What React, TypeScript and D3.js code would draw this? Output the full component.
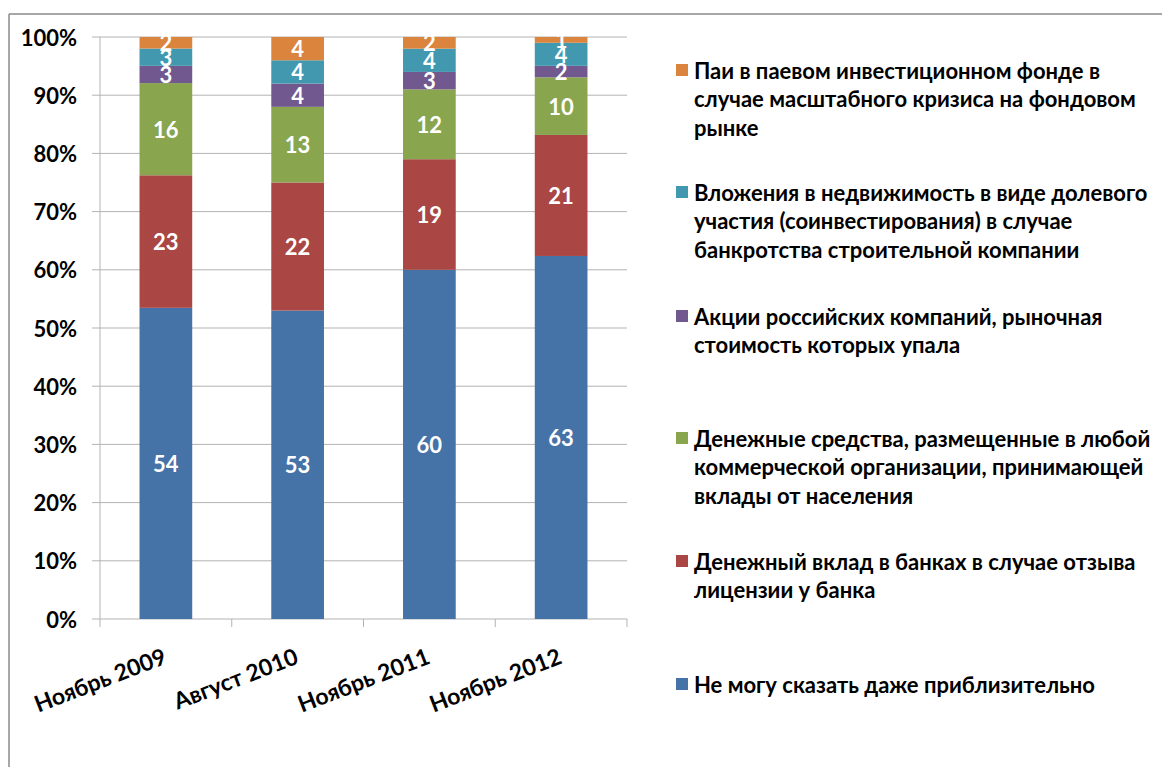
import React from "react";
import * as d3 from "d3";

// Survey waves
const categories = ["Ноябрь 2009", "Август 2010", "Ноябрь 2011", "Ноябрь 2012"];

// Answer shares, % of respondents (stacked bottom to top)
const cantSay = [54, 53, 60, 63];
const bankDeposit = [23, 22, 19, 21];
const anyOrganization = [16, 13, 12, 10];
const russianShares = [3, 4, 3, 2];
const realEstate = [3, 4, 4, 4];
const mutualFunds = [2, 4, 2, 1];

const seriesNames = [
  "Не могу сказать даже приблизительно",
  "Денежный вклад в банках в случае отзыва лицензии у банка",
  "Денежные средства, размещенные в любой коммерческой организации, принимающей вклады от населения",
  "Акции российских компаний, рыночная стоимость которых упала",
  "Вложения в недвижимость в виде долевого участия (соинвестирования) в случае банкротства строительной компании",
  "Паи в паевом инвестиционном фонде в случае масштабного кризиса на фондовом рынке",
];

// Legend lines, top entry first
const legendLines = [
  ["Паи в паевом инвестиционном фонде в", "случае масштабного кризиса на фондовом", "рынке"],
  ["Вложения в недвижимость в виде долевого", "участия (соинвестирования) в случае", "банкротства строительной компании"],
  ["Акции российских компаний, рыночная", "стоимость которых упала"],
  ["Денежные средства, размещенные в любой", "коммерческой организации, принимающей", "вклады от населения"],
  ["Денежный вклад в банках в случае отзыва", "лицензии у банка"],
  ["Не могу сказать даже приблизительно"],
];
const legendTops = [70, 192, 316, 438, 561, 684];

const seriesValues = [cantSay, bankDeposit, anyOrganization, russianShares, realEstate, mutualFunds];
const colors = ["#4572A7", "#AA4643", "#89A54E", "#71588F", "#4198AF", "#DB843D"];
const legendColors = [...colors].reverse();

const W = 1162;
const H = 767;
const FONT = "Lato, 'Open Sans', sans-serif";

export default function App() {
  const x = d3
    .scaleBand<string>()
    .domain(categories)
    .range([100, 627])
    .paddingInner(0.6)
    .paddingOuter(0.3);
  const y = d3.scaleLinear().domain([0, 1]).range([619, 37]);

  const rows = categories.map((c, i) => {
    const r: Record<string, number | string> = { cat: c };
    seriesValues.forEach((s, k) => (r["s" + k] = s[i]));
    return r;
  });
  const keys = seriesValues.map((_, k) => "s" + k);
  const stacked = d3
    .stack<Record<string, number | string>>()
    .keys(keys)
    .offset(d3.stackOffsetExpand)(rows as any);

  const yTicks = d3.range(0, 11).map((v) => v / 10);
  const fmt = d3.format(".0%");
  const step = x.step();
  const [x0, x1] = x.range();
  const catBounds = d3.range(categories.length + 1).map((i) => x0 + i * step);

  return (
    <svg
      width={W}
      height={H}
      style={{ position: "absolute", left: 0, top: 0, background: "#fff" }}
      fontFamily={FONT}
    >
      {/* outer frame */}
      <line x1={9} y1={14} x2={W} y2={14} stroke="#8a8a8a" strokeWidth={1.5} />
      <line x1={9} y1={14} x2={9} y2={H} stroke="#8a8a8a" strokeWidth={1.5} />

      {/* gridlines and y ticks */}
      {yTicks.map((t) => (
        <g key={t}>
          <line x1={92} x2={x1} y1={y(t)} y2={y(t)} stroke="#b3b3b3" strokeWidth={1} />
          <text
            x={77}
            y={y(t)}
            textAnchor="end"
            dominantBaseline="central"
            fontSize={22}
            fontWeight={700}
            fill="#000"
          >
            {fmt(t)}
          </text>
        </g>
      ))}
      <line x1={100} x2={100} y1={y(1)} y2={y(0)} stroke="#b3b3b3" strokeWidth={1} />
      {catBounds.map((b, i) => (
        <line key={i} x1={b} x2={b} y1={y(0)} y2={y(0) + 8} stroke="#b3b3b3" strokeWidth={1} />
      ))}

      {/* stacked bars */}
      {stacked.map((layer, k) => (
        <g key={layer.key} fill={colors[k]}>
          {layer.map((d, i) => (
            <rect
              key={i}
              x={x(categories[i])}
              width={x.bandwidth()}
              y={y(d[1])}
              height={y(d[0]) - y(d[1])}
            />
          ))}
        </g>
      ))}

      {/* value labels */}
      {stacked.map((layer, k) => (
        <g key={"l" + layer.key}>
          {layer.map((d, i) => (
            <text
              key={i}
              x={(x(categories[i]) ?? 0) + x.bandwidth() / 2}
              y={y((d[0] + d[1]) / 2)}
              textAnchor="middle"
              dominantBaseline="central"
              fontSize={22}
              fontWeight={700}
              fill="#fff"
            >
              {seriesValues[k][i]}
            </text>
          ))}
        </g>
      ))}

      {/* category labels */}
      {categories.map((c) => (
        <text
          key={c}
          transform={`translate(${(x(c) ?? 0) + x.bandwidth() / 2 + 2},${663}) rotate(-21)`}
          textAnchor="end"
          fontSize={23}
          fontWeight={700}
          fill="#000"
        >
          {c}
        </text>
      ))}

      {/* legend */}
      {legendLines.map((lines, i) => (
        <g key={i} aria-label={seriesNames[seriesNames.length - 1 - i]}>
          <rect x={676} y={legendTops[i] - 6} width={12} height={12} fill={legendColors[i]} />
          {lines.map((ln, j) => (
            <text
              key={j}
              x={694}
              y={legendTops[i] + j * 28.5}
              dominantBaseline="central"
              fontSize={22}
              fontWeight={700}
              fill="#000"
            >
              {ln}
            </text>
          ))}
        </g>
      ))}
    </svg>
  );
}
